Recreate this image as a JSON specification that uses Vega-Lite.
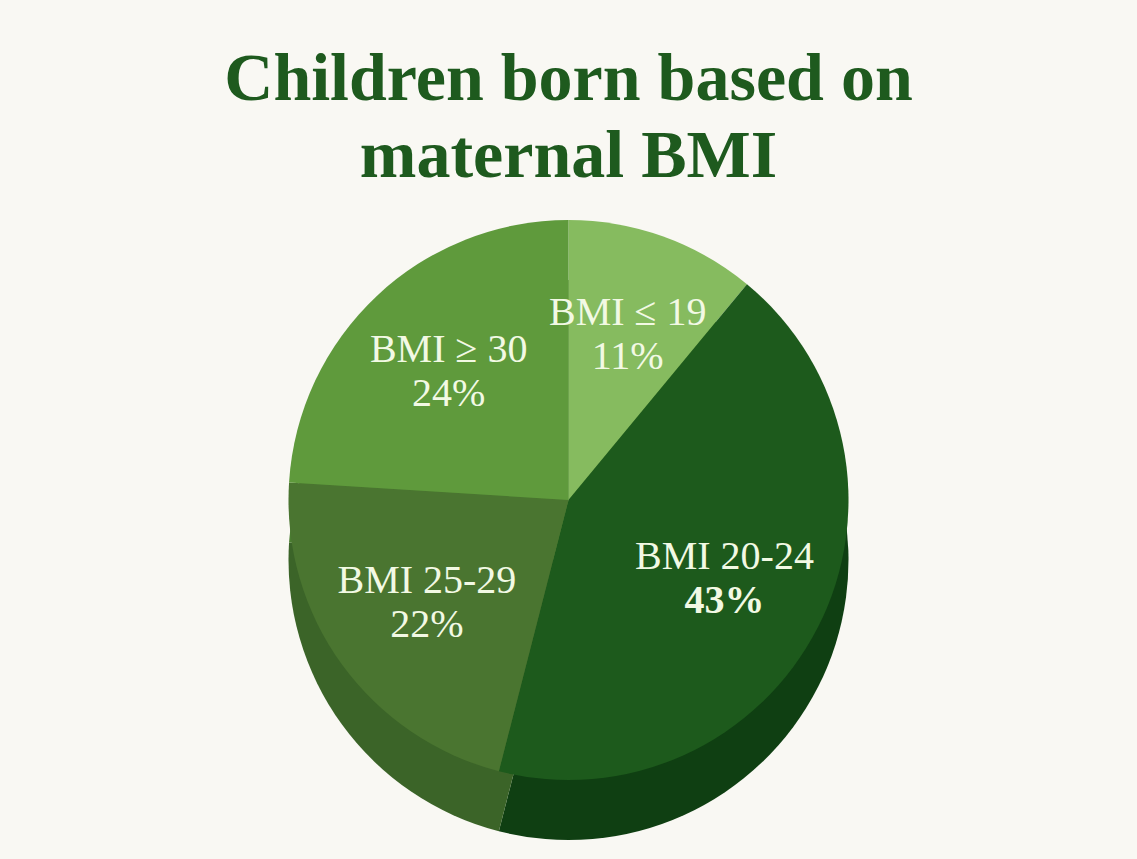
{
  "$schema": "https://vega.github.io/schema/vega-lite/v6.json",
  "width": 1137,
  "height": 859,
  "autosize": {"type": "fit", "contains": "padding"},
  "padding": {"top": 46, "bottom": 10, "left": 10, "right": 10},
  "background": "#f9f8f3",
  "title": {
    "text": ["Children born based on", "maternal BMI"],
    "font": "Liberation Serif",
    "fontSize": 68,
    "fontWeight": "bold",
    "color": "#1e5a1e",
    "anchor": "middle",
    "lineHeight": 77,
    "offset": 10
  },
  "data": {
    "values": [
      {"cat": "BMI ≤ 19", "pct": 11, "order": 1, "label": "11%"},
      {"cat": "BMI 20-24", "pct": 43, "order": 2, "label": "43%"},
      {"cat": "BMI 25-29", "pct": 22, "order": 3, "label": "22%"},
      {"cat": "BMI ≥ 30", "pct": 24, "order": 4, "label": "24%"}
    ]
  },
  "view": {"stroke": null},
  "encoding": {
    "theta": {"field": "pct", "type": "quantitative", "stack": true},
    "order": {"field": "order", "type": "ordinal"}
  },
  "layer": [
    {
      "mark": {"type": "arc", "outerRadius": 280, "yOffset": 35},
      "encoding": {
        "color": {
          "field": "cat",
          "type": "nominal",
          "scale": {"domain": ["BMI ≤ 19", "BMI 20-24", "BMI 25-29", "BMI ≥ 30"], "range": ["#5e8f42", "#0f3f12", "#3b6428", "#4a7d30"]},
          "legend": null
        }
      }
    },
    {
      "mark": {"type": "arc", "outerRadius": 280, "yOffset": -25},
      "encoding": {
        "fill": {
          "field": "cat",
          "type": "nominal",
          "scale": {"domain": ["BMI ≤ 19", "BMI 20-24", "BMI 25-29", "BMI ≥ 30"], "range": ["#86bb5f", "#1d5a1c", "#4a7530", "#5f9a3c"]},
          "legend": null
        }
      }
    },
    {
      "mark": {"type": "text", "radius": 175, "yOffset": -47, "font": "Liberation Serif", "fontSize": 40, "color": "#f2f9e4"},
      "encoding": {"text": {"field": "cat"}}
    },
    {
      "mark": {"type": "text", "radius": 175, "yOffset": -3, "font": "Liberation Serif", "fontSize": 40, "color": "#f2f9e4"},
      "encoding": {
        "text": {"field": "label"},
        "opacity": {"condition": {"test": "datum.order == 2", "value": 0}, "value": 1}
      }
    },
    {
      "mark": {"type": "text", "radius": 175, "yOffset": -3, "font": "Liberation Serif", "fontSize": 40, "fontWeight": "bold", "color": "#f2f9e4"},
      "encoding": {
        "text": {"field": "label"},
        "opacity": {"condition": {"test": "datum.order == 2", "value": 1}, "value": 0}
      }
    }
  ]
}
